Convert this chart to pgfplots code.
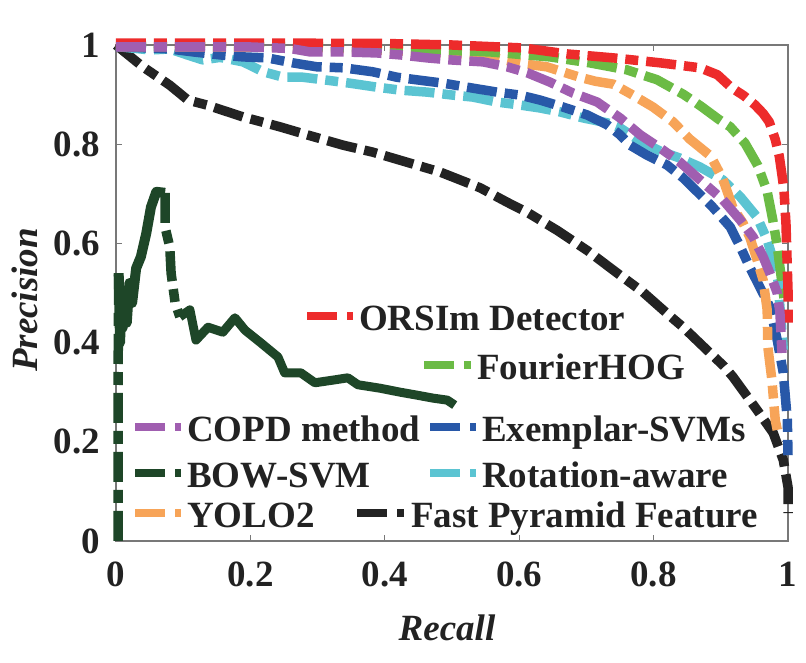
\documentclass[border=0pt]{standalone}
\usepackage{fontspec}
\setmainfont{Liberation Serif}
\usepackage{pgfplots}
\pgfplotsset{compat=1.18}

\definecolor{cORSIm}{RGB}{237,43,43}
\definecolor{cFourier}{RGB}{107,187,69}
\definecolor{cCOPD}{RGB}{160,94,176}
\definecolor{cExemplar}{RGB}{40,88,168}
\definecolor{cBOW}{RGB}{30,70,40}
\definecolor{cRot}{RGB}{91,196,210}
\definecolor{cYOLO}{RGB}{247,164,88}
\definecolor{cFPF}{RGB}{35,35,35}
\definecolor{frame}{RGB}{120,120,120}
\definecolor{txt}{RGB}{34,34,34}

\newcommand{\bigfont}{\bfseries\fontsize{37}{44}\selectfont}

\tikzset{
  curve/.style={line width=9.5pt, line cap=butt, line join=round,
    dash pattern=on 30pt off 8pt on 13pt off 8pt},
  legsample/.style={line width=8pt, line cap=butt,
    dash pattern=on 30pt off 10pt on 7pt off 10pt},
}

\begin{document}
\begin{tikzpicture}
\begin{axis}[
  name=ax, at={(0,0)}, anchor=south west,
  scale only axis, width=672pt, height=496pt,
  xmin=0, xmax=1, ymin=0, ymax=1,
  xtick={0,0.2,0.4,0.6,0.8,1},
  ytick={0,0.2,0.4,0.6,0.8,1},
  clip=false,
  axis line style={frame, line width=1.2pt},
  tick style={frame, line width=1.2pt},
  major tick length=6pt,
  /pgf/number format/assume math mode=true,
  ticklabel style={font=\bigfont, text=txt, inner sep=0pt},
  xticklabel style={anchor=north, yshift=-21pt},
  yticklabel style={anchor=east, xshift=-16pt},
]
% Fast Pyramid Feature
\addplot[curve, color=cFPF] coordinates {
(0,1.0) (0.040,0.956) (0.080,0.919) (0.107,0.889) (0.135,0.879) (0.189,0.855)
(0.244,0.835) (0.284,0.819) (0.338,0.798) (0.382,0.784) (0.482,0.744)
(0.542,0.712) (0.582,0.683) (0.614,0.661) (0.658,0.625) (0.702,0.585)
(0.744,0.542) (0.784,0.502) (0.824,0.454) (0.844,0.431) (0.884,0.379)
(0.905,0.352) (0.918,0.331) (0.954,0.264) (0.978,0.218) (0.993,0.163)
(1.0,0.109) (1.0,0.056)};
% BOW-SVM: vertical start, jagged rise, fall after the peak, long tail
\addplot[curve, color=cBOW] coordinates {(0.003,0.0) (0.003,0.30) (0.004,0.54)};
\addplot[line width=10pt, line join=round, color=cBOW] coordinates {
(0.004,0.54) (0.006,0.40) (0.008,0.47) (0.010,0.43) (0.013,0.50) (0.016,0.44)
(0.020,0.52) (0.024,0.48) (0.030,0.55) (0.037,0.573) (0.045,0.62)
(0.052,0.673) (0.060,0.704) (0.073,0.702)};
\addplot[curve, color=cBOW] coordinates {
(0.073,0.702) (0.073,0.633) (0.080,0.593) (0.082,0.540) (0.088,0.480) (0.095,0.452)};
\addplot[line width=9pt, line join=round, color=cBOW] coordinates {
(0.095,0.452) (0.110,0.466) (0.119,0.405) (0.137,0.431) (0.159,0.421)
(0.177,0.450) (0.192,0.425) (0.216,0.399) (0.241,0.371) (0.251,0.339)
(0.275,0.339) (0.296,0.319) (0.326,0.325) (0.345,0.329) (0.360,0.315)
(0.393,0.308) (0.423,0.300) (0.448,0.294) (0.472,0.288) (0.493,0.284)
(0.504,0.274)};
% Rotation-aware
\addplot[curve, color=cRot] coordinates {
(0,0.997) (0.030,0.993) (0.051,0.990) (0.080,0.992) (0.106,0.980) (0.129,0.970)
(0.155,0.975) (0.189,0.966) (0.219,0.946) (0.249,0.935) (0.278,0.935)
(0.314,0.929) (0.348,0.923) (0.388,0.915) (0.423,0.909) (0.463,0.905)
(0.501,0.899) (0.531,0.895) (0.567,0.885) (0.601,0.879) (0.631,0.873)
(0.661,0.865) (0.695,0.853) (0.731,0.843) (0.750,0.833) (0.780,0.806)
(0.810,0.786) (0.839,0.772) (0.869,0.754) (0.903,0.728) (0.929,0.694)
(0.954,0.653) (0.969,0.607) (0.978,0.567) (0.985,0.526) (0.988,0.472)
(0.990,0.440) (0.993,0.385)};
% Exemplar-SVMs
\addplot[curve, color=cExemplar] coordinates {
(0,0.997) (0.080,0.992) (0.115,0.986) (0.155,0.980) (0.189,0.976) (0.225,0.974)
(0.263,0.964) (0.299,0.956) (0.338,0.954) (0.382,0.946) (0.418,0.935)
(0.452,0.929) (0.487,0.923) (0.531,0.913) (0.567,0.905) (0.601,0.899)
(0.631,0.889) (0.665,0.875) (0.701,0.859) (0.731,0.839) (0.750,0.819)
(0.765,0.798) (0.790,0.778) (0.820,0.758) (0.844,0.732) (0.865,0.704)
(0.888,0.673) (0.914,0.633) (0.929,0.593) (0.943,0.552) (0.958,0.512)
(0.973,0.472) (0.984,0.405) (0.993,0.339) (0.999,0.244) (1.0,0.173)};
% YOLO2
\addplot[curve, color=cYOLO] coordinates {
(0,0.997) (0.300,0.995) (0.450,0.987) (0.542,0.980) (0.606,0.962) (0.641,0.956)
(0.690,0.935) (0.713,0.927) (0.740,0.921) (0.769,0.899) (0.799,0.875)
(0.829,0.845) (0.854,0.810) (0.885,0.776) (0.903,0.730) (0.918,0.672)
(0.933,0.641) (0.943,0.613) (0.954,0.567) (0.963,0.526) (0.969,0.466)
(0.970,0.391) (0.976,0.325) (0.981,0.244) (0.984,0.224)};
% FourierHOG
\addplot[curve, color=cFourier] coordinates {
(0,0.998) (0.300,0.997) (0.420,0.993) (0.557,0.986) (0.646,0.976) (0.705,0.964)
(0.760,0.950) (0.805,0.930) (0.845,0.900) (0.870,0.877) (0.896,0.851)
(0.914,0.835) (0.936,0.802) (0.955,0.757) (0.969,0.705) (0.977,0.650)
(0.984,0.595) (0.988,0.552) (0.992,0.510) (0.994,0.490)};
% ORSIm Detector
\addplot[curve, color=cORSIm] coordinates {
(0,1.004) (0.200,1.004) (0.400,1.003) (0.500,1.0) (0.606,0.994) (0.671,0.982)
(0.740,0.974) (0.810,0.964) (0.869,0.954) (0.895,0.940) (0.915,0.915)
(0.935,0.897) (0.951,0.879) (0.963,0.862) (0.972,0.845) (0.981,0.810)
(0.987,0.776) (0.991,0.738) (0.994,0.708) (0.997,0.639) (0.9985,0.571)
(1.0,0.506) (1.0,0.440)};
% COPD method
\addplot[curve, color=cCOPD] coordinates {
(0,0.996) (0.200,0.996) (0.259,0.993) (0.289,0.986) (0.338,0.986) (0.388,0.984)
(0.423,0.980) (0.463,0.974) (0.497,0.970) (0.546,0.966) (0.582,0.956)
(0.612,0.944) (0.646,0.925) (0.680,0.903) (0.716,0.885) (0.750,0.853)
(0.780,0.819) (0.810,0.792) (0.839,0.764) (0.869,0.728) (0.903,0.688)
(0.929,0.647) (0.948,0.613) (0.963,0.573) (0.973,0.540) (0.984,0.500)
(0.988,0.460) (0.991,0.379)};
\end{axis}

% Legend, axis titles and page frame, laid out from the top-left corner of the page
\begin{scope}[shift={(ax.south west)}, x=1pt, y=1pt]
  \newcommand{\legentry}[5]{%
    \draw[legsample, #1] ({#2-116},{541-#4}) -- ({#3-116},{541-#4});
    \node[anchor=base west, inner sep=0pt, text=txt, font=\bigfont]
      at ({#3+6-116},{541-#4-15}) {#5};}
  \legentry{cORSIm}{307}{353}{316}{ORSIm Detector}
  \legentry{cFourier}{424}{471}{365}{FourierHOG}
  \legentry{cCOPD}{135}{181}{427}{COPD method}
  \legentry{cExemplar}{430}{476}{427}{Exemplar-SVMs}
  \legentry{cBOW}{135}{181}{473}{BOW-SVM}
  \legentry{cRot}{430}{476}{473}{Rotation-aware}
  \legentry{cYOLO}{135}{181}{513}{YOLO2}
  \legentry{cFPF}{357}{405}{513}{Fast Pyramid Feature}
  \node[text=txt, font=\bigfont\itshape] at ({447-116},{541-628}) {Recall};
  \node[text=txt, font=\bigfont\itshape, rotate=90] at ({25-116},{541-300}) {Precision};
  \path[use as bounding box] (-116,-122) rectangle (690,541);
\end{scope}
\end{tikzpicture}
\end{document}
